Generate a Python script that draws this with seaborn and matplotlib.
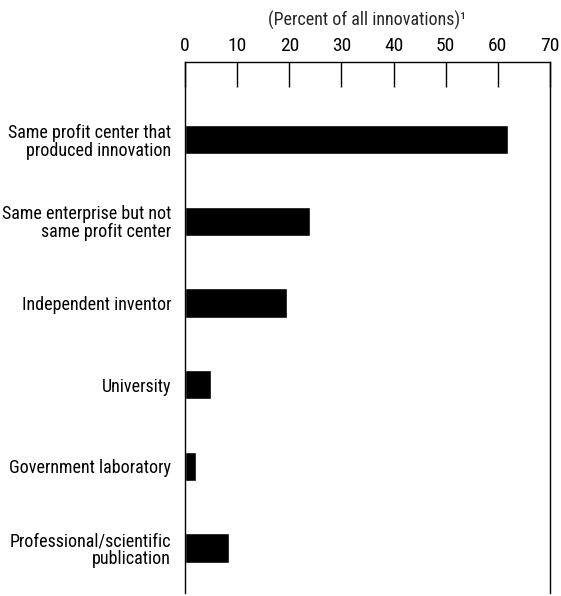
import pandas as pd
import seaborn as sns
import matplotlib.pyplot as plt
from matplotlib import font_manager

sources = [
    "Same profit center that\nproduced innovation",
    "Same enterprise but not\nsame profit center",
    "Independent inventor",
    "University",
    "Government laboratory",
    "Professional/scientific\npublication",
]
percent = [62, 24, 19.5, 5, 2, 8.5]
x_ticks = [0, 10, 20, 30, 40, 50, 60, 70]

df = pd.DataFrame({"source": sources, "percent": percent})

sns.set_style("white")
names = {f.name for f in font_manager.fontManager.ttflist}
narrow = [n for n in ["Liberation Sans Narrow", "Roboto Condensed", "DejaVu Sans"] if n in names]
plt.rcParams["font.family"] = narrow + ["DejaVu Sans"]
plt.rcParams["font.stretch"] = "condensed"

fig = plt.figure(figsize=(5.61, 5.96), dpi=100)
ax = fig.add_axes([0.33, 0.005, 0.65, 0.891])

sns.barplot(data=df, x="percent", y="source", color="black",
            orient="h", width=0.36, saturation=1, ax=ax)

ax.set_xlim(0, 70)
ax.set_ylim(5.55, -0.95)
ax.set_xticks(x_ticks)
ax.xaxis.tick_top()
ax.xaxis.set_label_position("top")
ax.tick_params(axis="x", direction="in", length=18, width=1, pad=5,
               labelsize=14, colors="black")
ax.tick_params(axis="y", length=0, pad=10, labelsize=13, colors="black")
for lab in ax.get_yticklabels():
    lab.set_linespacing(1.0)
ax.set_ylabel("")
ax.set_xlabel("(Percent of all innovations)\u00b9", fontsize=13, labelpad=8)

for side in ["left", "right", "top"]:
    ax.spines[side].set_visible(True)
    ax.spines[side].set_color("black")
    ax.spines[side].set_linewidth(1)
ax.spines["bottom"].set_visible(False)

fig.savefig("out.png", dpi=100)
